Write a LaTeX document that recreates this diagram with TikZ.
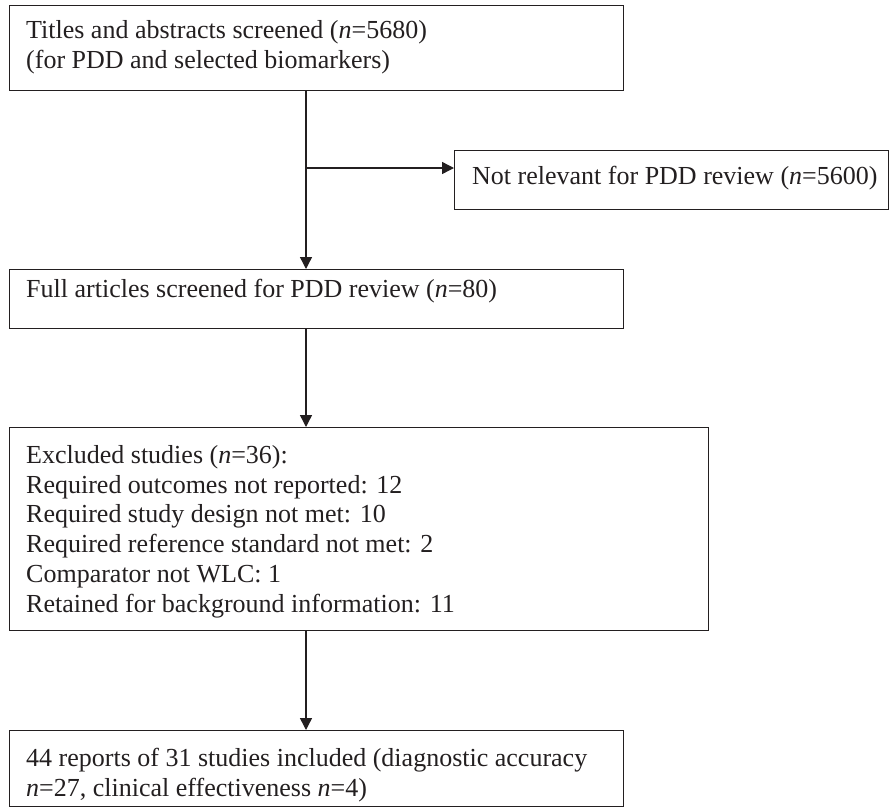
\documentclass[tikz,border=0pt]{standalone}
\usepackage{fontspec}
\setmainfont{Liberation Serif}
\usetikzlibrary{arrows.meta}
\definecolor{ink}{HTML}{231F20}
\begin{document}
\begin{tikzpicture}[x=1pt,y=-1pt,
  boxframe/.style={draw=ink, line width=1.4pt, rectangle, anchor=north west, inner sep=0pt},
  boxtext/.style={anchor=base west, inner sep=0pt, align=left, text=ink,
    font=\fontsize{26}{29.7}\selectfont},
  link/.style={draw=ink, line width=1.4pt},
  arr/.style={link, -{Triangle[length=12pt,width=12pt]}}]
\useasboundingbox (0,0) rectangle (889,807);
% frames
\node[boxframe, minimum width=614pt, minimum height=85pt] (b1) at (9,5) {};
\node[boxframe, minimum width=434pt, minimum height=59pt] (b2) at (454,150) {};
\node[boxframe, minimum width=614pt, minimum height=59pt] (b3) at (9,269) {};
\node[boxframe, minimum width=699pt, minimum height=203pt] (b4) at (9,427) {};
\node[boxframe, minimum width=614pt, minimum height=76pt] (b5) at (9,730) {};
% texts (anchored at the baseline of their last line)
\node[boxtext] (t1) at (26,68) {Titles and abstracts screened (\textit{n}=5680)\\(for PDD and selected biomarkers)};
\node[boxtext] (t2) at (472,184) {Not relevant for PDD review (\textit{n}=5600)};
\node[boxtext] (t3) at (26,297) {Full articles screened for PDD review (\textit{n}=80)};
\node[boxtext] (t4) at (26,612) {Excluded studies (\textit{n}=36):\\Required outcomes not reported: 12\\Required study design not met: 10\\Required reference standard not met: 2\\Comparator not WLC: 1\\Retained for background information: 11};
\node[boxtext] (t5) at (26,796) {44 reports of 31 studies included (diagnostic accuracy\\\textit{n}=27, clinical effectiveness \textit{n}=4)};
% connectors
\coordinate (spine) at (306,168);
\draw[link] (b1.south -| spine) -- (spine);
\draw[arr] (spine) -- (spine |- b3.north);
\draw[arr] (spine) -- (b2.west |- spine);
\draw[arr] (b3.south -| spine) -- (b4.north -| spine);
\draw[arr] (b4.south -| spine) -- (b5.north -| spine);
\end{tikzpicture}
\end{document}
